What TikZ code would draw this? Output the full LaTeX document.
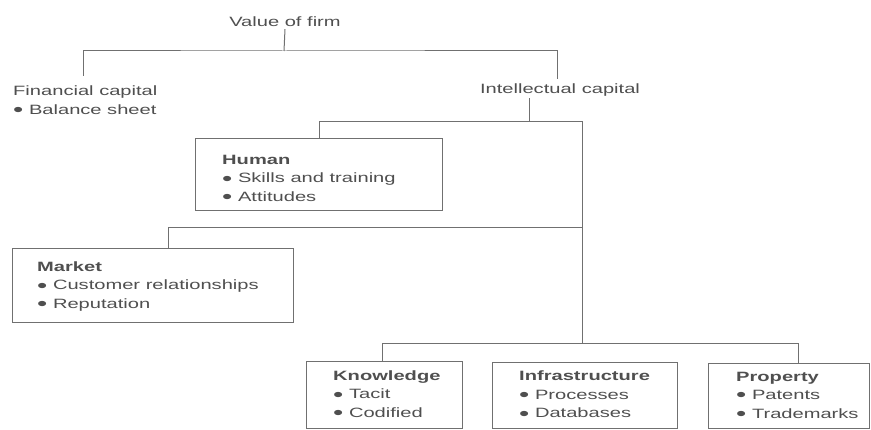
\documentclass[tikz,border=0pt]{standalone}
\usepackage{fontspec}
\setmainfont{Liberation Sans}[FakeStretch=1.49]
\definecolor{txtgray}{HTML}{4F4F4F}
\definecolor{linegray}{HTML}{707070}
\newcommand\bul{\raisebox{-0.32ex}{\scalebox{1.45}{\textbullet}}\ }
\begin{document}
\begin{tikzpicture}[x=1pt,y=1pt,
  every node/.style={font=\fontsize{13.5}{18.5}\selectfont, text=txtgray},
  lbl/.style={inner sep=2pt},
  boxnode/.style={draw=linegray, line width=1pt, anchor=north west, inner sep=0pt},
  boxtext/.style={anchor=west, align=left, inner sep=0pt},
  conn/.style={draw=linegray, line width=1pt}]
\useasboundingbox (0,0) rectangle (871,-430);

% top level
\node[lbl] (vof) at (285,-22) {Value of firm};
\node[lbl, anchor=north west, align=left, inner sep=0pt] (fin) at (13,-86) {Financial capital\\\bul Balance sheet};
\node[lbl] (ic) at (560,-90) {Intellectual capital};
\coordinate (bar1) at (284,-51);
\coordinate (fintop) at (83,-76);
\coordinate (ictop) at (557,-79);
\draw[conn] (vof.south) -- (bar1);
\draw[conn] (fintop) |- (bar1) -| (ictop);

% boxes
\node[boxnode, minimum width=247pt, minimum height=72pt] (human) at (195,-138) {};
\node[boxnode, minimum width=281pt, minimum height=74pt] (market) at (12,-248) {};
\node[boxnode, minimum width=156pt, minimum height=67pt] (know) at (306,-361) {};
\node[boxnode, minimum width=185pt, minimum height=66pt] (infra) at (492,-362) {};
\node[boxnode, minimum width=161pt, minimum height=65pt] (prop) at (708,-363) {};

\node[boxtext] (human-t) at ([xshift=27pt,yshift=-5pt]human.west) {\textbf{Human}\\\bul Skills and training\\\bul Attitudes};
\node[boxtext] (market-t) at ([xshift=25pt,yshift=-1pt]market.west) {\textbf{Market}\\\bul Customer relationships\\\bul Reputation};
\node[boxtext] (know-t) at ([xshift=27pt]know.west) {\textbf{Knowledge}\\\bul Tacit\\\bul Codified};
\node[boxtext] (infra-t) at ([xshift=27pt]infra.west) {\textbf{Infrastructure}\\\bul Processes\\\bul Databases};
\node[boxtext] (prop-t) at ([xshift=28pt]prop.west) {\textbf{Property}\\\bul Patents\\\bul Trademarks};

% intellectual capital tree
\coordinate (icb) at (529,-122);
\coordinate (trtop) at (582,-122);
\coordinate (mkj) at (582,-228);
\coordinate (mkc) at (168,-228);
\coordinate (trbot) at (582,-344);
\coordinate (pj) at (798,-344);
\draw[conn] (icb |- ic.south) -- (icb);
\draw[conn] (human.north) |- (trtop) -- (trbot);
\draw[conn] (mkc |- market.north) -- (mkc) -- (mkj);
\draw[conn] ([xshift=-2pt]know.north) |- (pj) -- (pj |- prop.north);
\end{tikzpicture}
\end{document}
